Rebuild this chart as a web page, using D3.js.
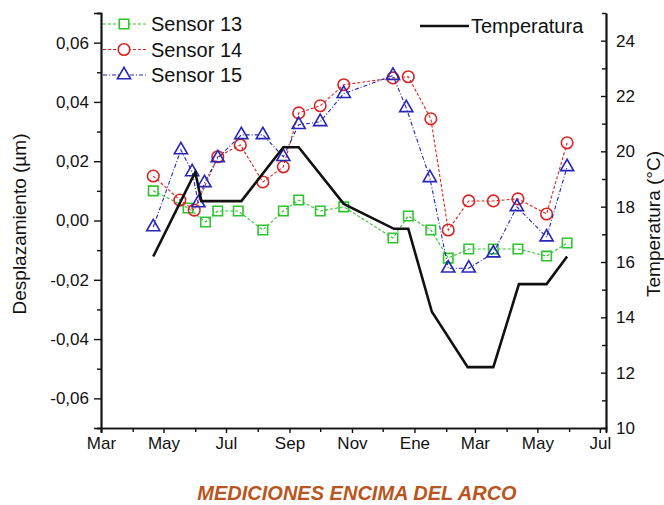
<!DOCTYPE html>
<html><head><meta charset="utf-8">
<script src="https://cdn.jsdelivr.net/npm/d3@7"></script>
<style>body{margin:0;background:#fff}svg{display:block}text{font-family:"Liberation Sans",Arial,sans-serif}</style>
</head><body><svg id="c" width="664" height="505"></svg>
<script>
// ---- data ----
const dates13 = ["2005-04-21","2005-05-25","2005-06-11","2005-06-23","2005-07-13","2005-08-06","2005-08-26","2005-09-10","2005-10-01","2005-10-24","2005-12-11","2005-12-26","2006-01-17","2006-02-03","2006-02-23","2006-03-19","2006-04-12","2006-05-10","2006-05-30"];
const sensor13 = [0.0100,0.0042,-0.0005,0.0032,0.0032,-0.0032,0.0032,0.0069,0.0032,0.0046,-0.0059,0.0015,-0.0032,-0.0127,-0.0096,-0.0096,-0.0096,-0.0120,-0.0076];
const dates14 = ["2005-04-21","2005-05-17","2005-05-31","2005-06-23","2005-07-15","2005-08-06","2005-08-26","2005-09-10","2005-10-01","2005-10-24","2005-12-11","2005-12-26","2006-01-17","2006-02-03","2006-02-23","2006-03-19","2006-04-12","2006-05-10","2006-05-30"];
const sensor14 = [0.0150,0.0069,0.0035,0.0215,0.0255,0.0130,0.0181,0.0363,0.0387,0.0458,0.0481,0.0485,0.0343,-0.0032,0.0066,0.0066,0.0073,0.0022,0.0262];
const dates15 = ["2005-04-21","2005-05-18","2005-05-29","2005-06-04","2005-06-10","2005-06-23","2005-07-16","2005-08-06","2005-08-26","2005-09-10","2005-10-01","2005-10-24","2005-12-11","2005-12-24","2006-01-16","2006-02-03","2006-02-23","2006-03-19","2006-04-11","2006-05-10","2006-05-30"];
const sensor15 = [-0.0022,0.0238,0.0164,0.0059,0.0127,0.0211,0.0289,0.0289,0.0215,0.0323,0.0333,0.0428,0.0489,0.0380,0.0144,-0.0161,-0.0161,-0.0110,0.0046,-0.0056,0.0181];
const datesT = ["2005-04-21","2005-06-01","2005-06-07","2005-07-16","2005-08-26","2005-09-10","2005-10-24","2005-12-12","2005-12-26","2006-01-18","2006-02-22","2006-03-19","2006-04-13","2006-05-10","2006-05-30"];
const temperatura = [16.2,19.25,18.2,18.2,20.15,20.15,18.1,17.2,17.2,14.2,12.2,12.2,15.2,15.2,16.2];
const monthLabels = ["Mar","May","Jul","Sep","Nov","Ene","Mar","May","Jul"];
const leftTicks = [-0.06,-0.04,-0.02,0,0.02,0.04,0.06];
const rightTicks = [10,12,14,16,18,20,22,24];

// ---- setup ----
const parse = d3.timeParse("%Y-%m-%d");
const svg = d3.select("#c");
const L = 101, R = 606, T = 13, B = 428;
const x = d3.scaleTime().domain([new Date(2005,2,1), new Date(2006,6,7)]).range([L,R]);
const yL = d3.scaleLinear().domain([-0.07,0.07]).range([B,T]);
const yR = d3.scaleLinear().domain([10,25]).range([B,T]);
const loc = d3.formatLocale({decimal:",",thousands:".",grouping:[3],currency:["",""],minus:"-"});
const fmt = loc.format(".2f");

const majorMonths = d3.range(0,17,2).map(i=>new Date(2005,2+i,1));
const minorMonths = d3.range(1,17,2).map(i=>new Date(2005,2+i,1));

function styleAxis(g){g.select(".domain").attr("stroke","#111").attr("stroke-width",1.7);
  g.selectAll(".tick line").attr("stroke","#111").attr("stroke-width",1.4);
  g.selectAll("text").attr("fill","#111").style("font-size","17px").attr("font-family","Liberation Sans, Arial, sans-serif");}

// bottom axis
svg.append("g").attr("transform",`translate(0,${B})`)
  .call(d3.axisBottom(x).tickValues(minorMonths).tickSize(4).tickFormat("")).call(styleAxis);
svg.append("g").attr("transform",`translate(0,${B})`)
  .call(d3.axisBottom(x).tickValues(majorMonths).tickSize(5).tickPadding(4).tickFormat((d,i)=>monthLabels[i])).call(styleAxis);
// left axis
svg.append("g").attr("transform",`translate(${L},0)`)
  .call(d3.axisLeft(yL).tickValues([-0.07,-0.05,-0.03,-0.01,0.01,0.03,0.05,0.07]).tickSize(4).tickFormat("")).call(styleAxis);
svg.append("g").attr("transform",`translate(${L},0)`)
  .call(d3.axisLeft(yL).tickValues(leftTicks).tickSize(7).tickPadding(5).tickFormat(fmt)).call(styleAxis);
// right axis
svg.append("g").attr("transform",`translate(${R},0)`)
  .call(d3.axisRight(yR).tickValues([11,13,15,17,19,21,23,25]).tickSizeInner(-4).tickSizeOuter(0).tickFormat("")).call(styleAxis);
svg.append("g").attr("transform",`translate(${R},0)`)
  .call(d3.axisRight(yR).tickValues(rightTicks).tickSizeInner(-5).tickSizeOuter(0).tickPadding(10).tickFormat(d3.format("d"))).call(styleAxis);

// axis titles
svg.append("text").attr("transform","translate(26,224) rotate(-90)").attr("text-anchor","middle")
  .style("font-size","19px").attr("fill","#111").text("Desplazamiento (µm)");
svg.append("text").attr("transform","translate(660,224) rotate(-90)").attr("text-anchor","middle")
  .style("font-size","19px").attr("fill","#111").text("Temperatura (°C)");

// series
const series = [
  {name:"Sensor 13", dates:dates13, vals:sensor13, color:"#2fc42f", dash:"3,2", shape:"square"},
  {name:"Sensor 14", dates:dates14, vals:sensor14, color:"#dd2222", dash:"3,2", shape:"circle"},
  {name:"Sensor 15", dates:dates15, vals:sensor15, color:"#2626b8", dash:"4,2,1,2", shape:"triangle"}
];
const sym = {square:d3.symbol().type(d3.symbolSquare).size(90),
             circle:d3.symbol().type(d3.symbolCircle).size(105),
             triangle:d3.symbol().type(d3.symbolTriangle).size(75)};

series.forEach(s=>{
  const pts = s.dates.map((d,i)=>({d:parse(d),v:s.vals[i]}));
  svg.append("path").datum(pts).attr("fill","none").attr("stroke",s.color).attr("stroke-width",1.1)
    .attr("stroke-dasharray",s.dash)
    .attr("d",d3.line().x(p=>x(p.d)).y(p=>yL(p.v)));
  svg.append("g").selectAll("path").data(pts).join("path")
    .attr("d",sym[s.shape]()).attr("transform",p=>`translate(${x(p.d)},${yL(p.v)})`)
    .attr("fill","none").attr("stroke",s.color).attr("stroke-width",1.6);
});

// temperature
const tpts = datesT.map((d,i)=>({d:parse(d),v:temperatura[i]}));
svg.append("path").datum(tpts).attr("fill","none").attr("stroke","#111").attr("stroke-width",2.6)
  .attr("stroke-linejoin","miter")
  .attr("d",d3.line().x(p=>x(p.d)).y(p=>yR(p.v)));

// legend
series.forEach((s,i)=>{
  const y = 24 + i*25.5;
  svg.append("line").attr("x1",103).attr("x2",147).attr("y1",y).attr("y2",y)
    .attr("stroke",s.color).attr("stroke-width",1.1).attr("stroke-dasharray",s.dash);
  svg.append("path").attr("d",sym[s.shape]()).attr("transform",`translate(124,${y})`)
    .attr("fill","#fff").attr("stroke",s.color).attr("stroke-width",1.6);
  svg.append("text").attr("x",151).attr("y",y+7).style("font-size","20px").attr("fill","#111").text(s.name);
});
svg.append("line").attr("x1",420).attr("x2",469).attr("y1",26).attr("y2",26).attr("stroke","#111").attr("stroke-width",2.6);
svg.append("text").attr("x",471).attr("y",33).style("font-size","20px").attr("fill","#111").text("Temperatura");

// title
svg.append("text").attr("x",357).attr("y",500).attr("text-anchor","middle")
  .style("font-size","20px").style("font-weight","bold").style("font-style","italic")
  .attr("fill","#bb5520").text("MEDICIONES ENCIMA DEL ARCO");
</script></body></html>
